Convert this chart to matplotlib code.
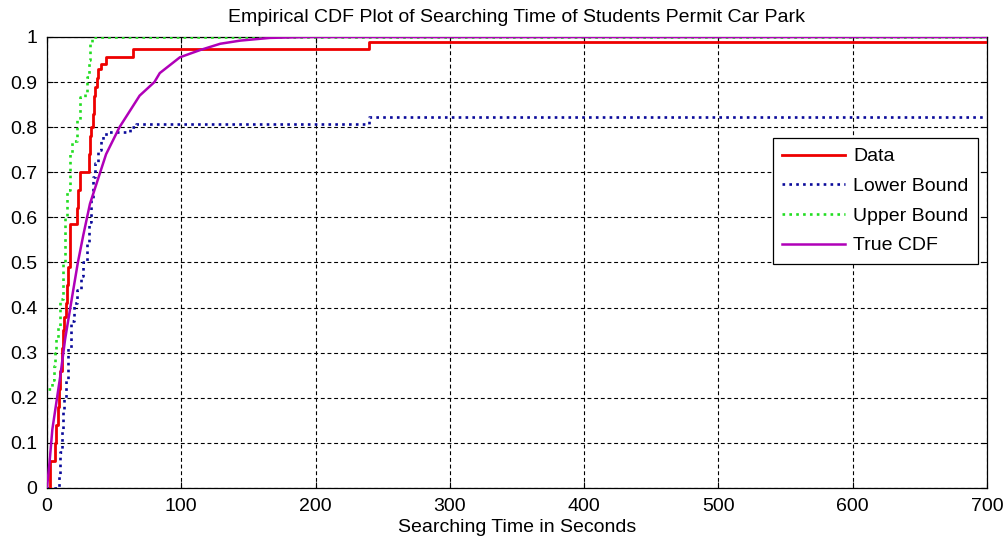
import matplotlib
matplotlib.use("Agg")
import matplotlib.pyplot as plt

# Empirical CDF of searching time (seconds) – stair points (time, cumulative probability)
data_t = [2, 2, 6, 7, 8, 9, 10, 11, 12, 13, 14, 15, 16, 17, 22, 23, 24.5, 31, 32, 33,
          34, 35, 36, 37, 38, 40, 44, 64, 240, 700]
data_F = [0, 0.06, 0.10, 0.14, 0.18, 0.22, 0.26, 0.31, 0.35, 0.38, 0.41, 0.45, 0.49, 0.585,
          0.62, 0.66, 0.70, 0.74, 0.78, 0.80, 0.83, 0.87, 0.89, 0.91, 0.93, 0.94, 0.956,
          0.973, 0.99, 0.99]

# Lower confidence bound
lower_t = [0, 9, 10, 11, 12, 13, 14, 16, 18, 20, 22, 25, 27, 29.5, 31, 33, 34.5, 36, 38,
           40, 42, 44, 62, 66, 240, 700]
lower_F = [0, 0.03, 0.08, 0.13, 0.17, 0.20, 0.24, 0.31, 0.37, 0.41, 0.44, 0.47, 0.50, 0.54,
           0.59, 0.64, 0.69, 0.72, 0.75, 0.77, 0.78, 0.79, 0.80, 0.808, 0.822, 0.822]

# Upper confidence bound
upper_t = [1, 4, 5, 6, 7, 8, 10, 12, 13.5, 15, 17, 19, 22, 24.6, 28, 29.5, 31, 32, 33.3, 700]
upper_F = [0.22, 0.24, 0.27, 0.30, 0.33, 0.36, 0.42, 0.50, 0.60, 0.66, 0.74, 0.77, 0.815,
           0.867, 0.875, 0.912, 0.95, 0.986, 1.0, 1.0]

# Fitted (true) CDF
true_t = [0, 2, 4, 8, 10, 13.5, 18.5, 23, 27, 32, 44, 54, 69, 80, 84, 99, 114, 129, 144,
          166, 194, 700]
true_F = [0, 0.06, 0.13, 0.21, 0.25, 0.33, 0.42, 0.50, 0.56, 0.63, 0.74, 0.80, 0.87, 0.90,
          0.92, 0.955, 0.971, 0.985, 0.992, 0.998, 1.0, 1.0]

x_ticks = [0, 100, 200, 300, 400, 500, 600, 700]
y_ticks = [0, 0.1, 0.2, 0.3, 0.4, 0.5, 0.6, 0.7, 0.8, 0.9, 1.0]
y_ticklabels = ["0", "0.1", "0.2", "0.3", "0.4", "0.5", "0.6", "0.7", "0.8", "0.9", "1"]

plt.rcParams["font.family"] = ["Liberation Sans", "DejaVu Sans"]
FS = 14

fig = plt.figure(figsize=(10.06, 5.48), dpi=100, facecolor="white")
ax = fig.add_axes([0.0467, 0.1095, 0.9344, 0.8230])

dot = (0, (1.0, 1.6))
ax.plot(data_t, data_F, color="#ee0000", lw=2.0, drawstyle="steps-post",
        label="Data", zorder=4)
ax.plot(lower_t, lower_F, color="#0a0a9a", lw=1.9, ls=dot, drawstyle="steps-post",
        label="Lower Bound", zorder=3)
ax.plot(upper_t, upper_F, color="#22dd22", lw=1.9, ls=dot, drawstyle="steps-post",
        label="Upper Bound", zorder=3)
ax.plot(true_t, true_F, color="#b000b8", lw=1.8, label="True CDF", zorder=5)

ax.set_xlim(0, 700)
ax.set_ylim(0, 1)
ax.set_xticks(x_ticks)
ax.set_xticklabels([str(v) for v in x_ticks])
ax.set_yticks(y_ticks)
ax.set_yticklabels(y_ticklabels)

ax.grid(True, color="black", ls=(0, (3.5, 2.5)), lw=0.8)
ax.set_axisbelow(True)
for s in ax.spines.values():
    s.set_linewidth(0.9)
    s.set_color("black")
ax.tick_params(direction="in", length=4, width=0.8, top=True, right=True,
               labelsize=FS, colors="black")
ax.tick_params(axis="y", pad=7)
ax.tick_params(axis="x", pad=7)

ax.set_title("Empirical CDF Plot of Searching Time of Students Permit Car Park",
             fontsize=FS, pad=11)
ax.set_xlabel("Searching Time in Seconds", fontsize=FS, labelpad=3)

leg = ax.legend(loc="upper left", bbox_to_anchor=(0.772, 0.776), fontsize=FS,
                frameon=True, fancybox=False, framealpha=1, edgecolor="black",
                handlelength=3.2, handletextpad=0.45, labelspacing=0.62,
                borderpad=0.5, borderaxespad=0)
leg.get_frame().set_linewidth(0.9)

fig.savefig("out.png", dpi=100, facecolor="white")
